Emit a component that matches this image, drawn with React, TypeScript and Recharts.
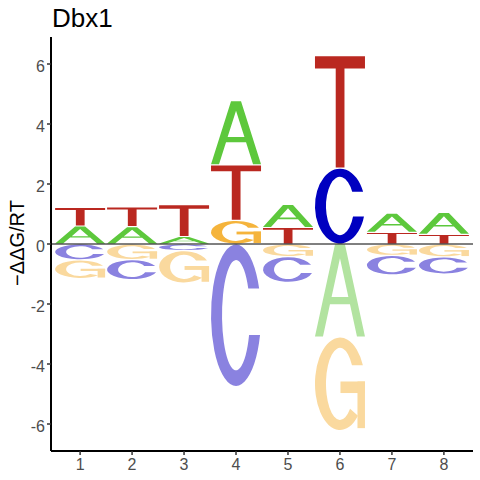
import React from "react";
import { ComposedChart, Bar, XAxis, YAxis, ReferenceLine } from "recharts";

// ---- data ----
const positions = [1, 2, 3, 4, 5, 6, 7, 8];
const energyA = [0.6, 0.58, 0.25, 2.14, 0.77, -3.1, 0.64, 0.73];
const energyC = [-0.53, -0.67, -0.22, -4.75, -0.86, 2.53, -0.65, -0.57];
const energyG = [-0.62, -0.52, -1.08, 0.79, -0.42, -3.12, -0.38, -0.43];
const energyT = [0.62, 0.66, 1.06, 1.85, 0.55, 3.75, 0.39, 0.32];
const xTicks = [1, 2, 3, 4, 5, 6, 7, 8];
const yTicks = [-6, -4, -2, 0, 2, 4, 6];
const titleText = "Dbx1";
const yLabelText = "\u2212\u0394\u0394G/RT";

const posColors: Record<string, string> = {
  A: "#5DC83C",
  C: "#0000C0",
  G: "#F5B43C",
  T: "#BA2820",
};
const negColors: Record<string, string> = {
  A: "#B2E3A0",
  C: "#8A82E0",
  G: "#FAD99E",
  T: "#E8A9A5",
};

// glyph outlines in a 100x100 box
const glyphs: Record<string, { d: string; rule: "evenodd" | "nonzero" }[]> = {
  A: [
    {
      d: "M0,100 L40,0 L60,0 L100,100 L84,100 L70,65 L30,65 L16,100 Z M33.2,57 L66.8,57 L50,15 Z",
      rule: "evenodd",
    },
  ],
  C: [
    {
      d: "M96.25,31 A50,50 0 1 0 98,64 L76.1,64 A28,39 0 1 1 74.45,31 Z",
      rule: "nonzero",
    },
  ],
  G: [
    {
      d: "M95.83,30 A50,50 0 1 0 86,84.7 L70.2,77.1 A28,39 0 1 1 74.03,30 Z",
      rule: "nonzero",
    },
    { d: "M51,47.5 L100,47.5 L100,60 L51,60 Z", rule: "nonzero" },
    { d: "M85,47.5 L100,47.5 L100,98 L85,98 Z", rule: "nonzero" },
  ],
  T: [
    {
      d: "M0,0 L100,0 L100,11 L59,11 L59,100 L41.5,100 L41.5,11 L0,11 Z",
      rule: "nonzero",
    },
  ],
};

const slots = ["p0", "p1", "p2", "n0", "n1", "n2"];

const rows = positions.map((p, i) => {
  const entries: [string, number][] = [
    ["A", energyA[i]],
    ["C", energyC[i]],
    ["G", energyG[i]],
    ["T", energyT[i]],
  ];
  const pos = entries.filter((e) => e[1] > 0).sort((a, b) => a[1] - b[1]);
  const neg = entries.filter((e) => e[1] < 0).sort((a, b) => b[1] - a[1]);
  const row: Record<string, any> = { pos: p };
  for (let k = 0; k < 3; k++) {
    row[`p${k}`] = pos[k] ? pos[k][1] : 0;
    row[`p${k}L`] = pos[k] ? pos[k][0] : "";
    row[`n${k}`] = neg[k] ? neg[k][1] : 0;
    row[`n${k}L`] = neg[k] ? neg[k][0] : "";
  }
  return row;
});

const makeShape = (slot: string) => (props: any) => {
  const { x, y, width, height, payload } = props;
  const letter = payload ? payload[slot + "L"] : "";
  if (!letter || !height || !width) return <g />;
  let top = y;
  let h = height;
  if (h < 0) {
    top = y + h;
    h = -h;
  }
  const value = payload[slot];
  const color = value > 0 ? posColors[letter] : negColors[letter];
  const inset = h > 4 ? 0.6 : 0.2;
  const hh = h - 2 * inset;
  return (
    <g
      transform={`translate(${x},${top + inset}) scale(${width / 100},${hh / 100})`}
    >
      {glyphs[letter].map((g, j) => (
        <path key={j} d={g.d} fill={color} fillRule={g.rule} />
      ))}
    </g>
  );
};

const tickStyle = {
  fill: "#4D4D4D",
  fontSize: 16,
  fontFamily: "Liberation Sans, Arial, sans-serif",
};

export default function App() {
  return (
    <div
      style={{
        position: "absolute",
        left: 0,
        top: 0,
        width: 480,
        height: 480,
        background: "#fff",
      }}
    >
      <ComposedChart
        width={480}
        height={480}
        data={rows}
        stackOffset="sign"
        margin={{ top: 37, right: 7, bottom: 0, left: 0 }}
        barGap={0}
      >
        <XAxis
          dataKey="pos"
          type="number"
          domain={[0.44, 8.56]}
          ticks={xTicks}
          interval={0}
          allowDataOverflow
          height={29}
          tickSize={4}
          tickMargin={4}
          axisLine={{ stroke: "#000", strokeWidth: 2 }}
          tickLine={{ stroke: "#333", strokeWidth: 1.5 }}
          tick={tickStyle}
        />
        <YAxis
          type="number"
          domain={[-6.9, 6.9]}
          ticks={yTicks}
          interval={0}
          allowDataOverflow
          width={51}
          tickSize={4}
          tickMargin={2}
          axisLine={{ stroke: "#000", strokeWidth: 2 }}
          tickLine={{ stroke: "#333", strokeWidth: 1.5 }}
          tick={{ ...tickStyle, dy: 2 }}
        />
        {slots.map((s) => (
          <Bar
            key={s}
            dataKey={s}
            stackId="logo"
            barSize={50}
            isAnimationActive={false}
            shape={makeShape(s)}
          />
        ))}
        <ReferenceLine y={0} stroke="#000" strokeWidth={1} />
      </ComposedChart>
      <div
        style={{
          position: "absolute",
          left: 52,
          top: 5,
          fontFamily: "Liberation Sans, Arial, sans-serif",
          fontSize: 26,
          lineHeight: "26px",
          color: "#000",
          whiteSpace: "nowrap",
        }}
      >
        {titleText}
      </div>
      <div
        style={{
          position: "absolute",
          left: 17,
          top: 243,
          transform: "translate(-50%, -50%) rotate(-90deg)",
          fontFamily: "Liberation Sans, Arial, sans-serif",
          fontSize: 20,
          lineHeight: "20px",
          color: "#000",
          whiteSpace: "nowrap",
        }}
      >
        {yLabelText}
      </div>
    </div>
  );
}
